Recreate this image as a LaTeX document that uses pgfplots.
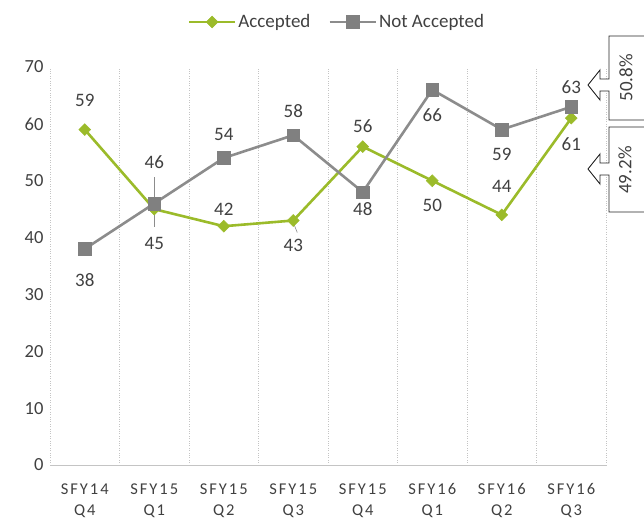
\documentclass[border=0pt]{standalone}
\usepackage{pgfplots}
\pgfplotsset{compat=1.18}
\usepackage{pgfplotstable}
\usepackage{fontspec}
\setmainfont{Carlito}
\newfontfamily\tickfont[LetterSpace=12]{Carlito}
\definecolor{accgreen}{HTML}{9BBB2A}
\definecolor{nagray}{HTML}{8C8C8C}
\definecolor{nasq}{HTML}{808080}
\definecolor{txt}{HTML}{404040}
\definecolor{gridc}{HTML}{C4C4C4}

\pgfplotstableread{
x acc accdy na nady
0 59 29 38 -31
1 45 -34 46 41
2 42 17 54 24
3 43 -25 58 24
4 56 20 48 -17
5 50 -25 66 -25
6 44 28 59 -25
7 61 -26 63 20
}\data

\begin{document}
\begin{tikzpicture}[x=1pt,y=1pt]
\useasboundingbox (0,0) rectangle (644,520);
\begin{axis}[
  at={(50pt,55pt)}, anchor=south west,
  scale only axis, width=556pt, height=398pt,
  xmin=-0.5, xmax=7.5, ymin=0, ymax=70,
  ytick={0,10,...,70},
  xtick={0,...,7},
  xticklabels={{SFY14\\Q4},{SFY15\\Q1},{SFY15\\Q2},{SFY15\\Q3},{SFY15\\Q4},{SFY16\\Q1},{SFY16\\Q2},{SFY16\\Q3}},
  minor xtick={-0.5,0.5,...,7.5},
  xminorgrids,
  minor grid style={gridc, dotted, line width=0.9pt},
  major tick length=0pt, minor tick length=0pt,
  axis x line*=bottom, axis y line*=left,
  x axis line style={draw=gridc, line width=0.9pt, -},
  y axis line style={draw=none},
  /pgf/number format/assume math mode=true,
  yticklabel style={font=\fontsize{18.5}{21}\selectfont, text=txt, xshift=-3pt},
  xticklabel style={font=\tickfont\fontsize{16.5}{21}\selectfont, text=txt, align=center, yshift=-15pt},
  legend columns=2,
  legend style={draw=none, fill=none, at={(0.516,1)}, anchor=center, yshift=45pt,
    font=\fontsize{19}{21}\selectfont, text=txt,
    /tikz/every even column/.append style={column sep=16pt}},
  legend image code/.code={\draw[mark repeat=2,mark phase=2,#1] plot coordinates {(0pt,0pt) (23pt,0pt) (46pt,0pt)};},
  clip=false,
]
\addplot[accgreen, line width=2.6pt, mark=square*, mark size=4.2pt,
  mark options={rotate=45, fill=accgreen, draw=accgreen, line width=0.5pt},
  nodes near coords, visualization depends on={\thisrow{accdy} \as \dy},
  nodes near coords style={anchor=center, yshift=\dy pt, text=txt, font=\fontsize{19}{21}\selectfont}]
  table[x=x, y=acc] {\data};
\addlegendentry{Accepted}
\addplot[nagray, line width=2.6pt, mark=square*, mark size=6.3pt,
  mark options={fill=nasq, draw=nasq, line width=0.5pt},
  nodes near coords, visualization depends on={\thisrow{nady} \as \dyb},
  nodes near coords style={anchor=center, yshift=\dyb pt, text=txt, font=\fontsize{19}{21}\selectfont}]
  table[x=x, y=na] {\data};
\addlegendentry{Not Accepted}
\draw[nagray, line width=0.6pt] ([yshift=26pt]axis cs:1,46) -- ([yshift=-24pt]axis cs:1,46);
\draw[nagray, line width=0.6pt] ([yshift=-2pt]axis cs:3,43) -- ([xshift=4pt,yshift=-12pt]axis cs:3,43);
\end{axis}
% callouts
\draw[black!85, line width=0.9pt, fill=white]
  (650,484) -- (609,484) -- (609,441) -- (600,441) -- (600,450) -- (588,435) -- (600,420) -- (600,429) -- (609,429) -- (609,400) -- (650,400);
\draw[black!85, line width=0.9pt, fill=white]
  (650,393) -- (609,393) -- (609,357) -- (600,357) -- (600,366) -- (588,351) -- (600,336) -- (600,345) -- (609,345) -- (609,308) -- (650,308);
\node[rotate=90, text=txt, font=\fontsize{19}{21}\selectfont] at (626,442) {50.8\%};
\node[rotate=90, text=txt, font=\fontsize{19}{21}\selectfont] at (625,350) {49.2\%};
\end{tikzpicture}
\end{document}
